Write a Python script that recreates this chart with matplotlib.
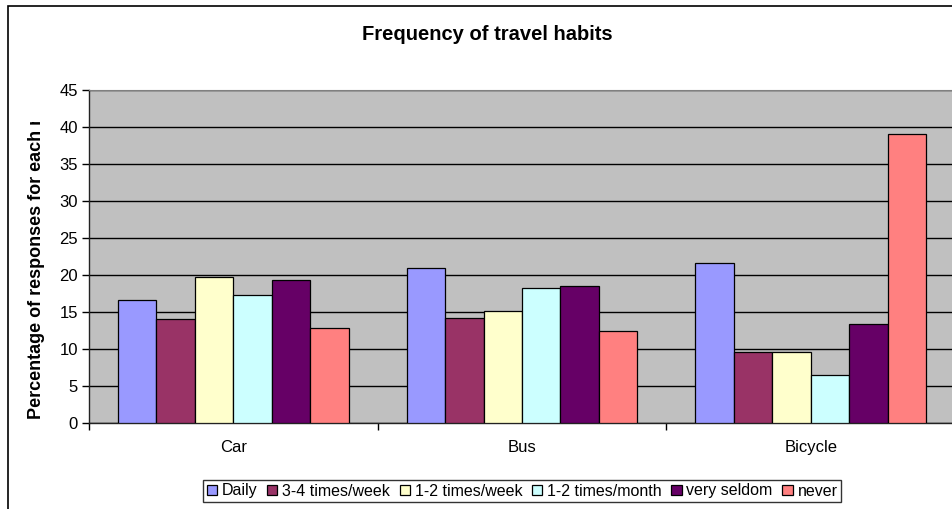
import matplotlib
matplotlib.use("Agg")
import matplotlib.pyplot as plt
from matplotlib.patches import Rectangle
from matplotlib.transforms import Bbox
from matplotlib.font_manager import FontProperties
import numpy as np

plt.rcParams['font.family'] = ['Liberation Sans', 'DejaVu Sans']

modes = ["Car", "Bus", "Bicycle"]
frequencies = ["Daily", "3-4 times/week", "1-2 times/week", "1-2 times/month", "very seldom", "never"]
daily = [16.6, 20.9, 21.6]
times_3_4_week = [14.0, 14.2, 9.6]
times_1_2_week = [19.7, 15.1, 9.6]
times_1_2_month = [17.3, 18.3, 6.5]
very_seldom = [19.3, 18.5, 13.4]
never = [12.8, 12.5, 39.0]
colors = ["#9999FF", "#993366", "#FFFFCC", "#CCFFFF", "#660066", "#FF8080"]

series = [daily, times_3_4_week, times_1_2_week, times_1_2_month, very_seldom, never]

W, H = 953, 509
fig = plt.figure(figsize=(W / 100, H / 100), dpi=100)
ax = fig.add_axes([89 / W, (H - 423) / H, 866 / W, 333 / H])
ax.set_facecolor("#C0C0C0")

# outer chart border
fig.patches.append(Rectangle((8 / W, -0.05), 1.2, 1 - 6 / H + 0.05, transform=fig.transFigure,
                             fill=False, edgecolor="black", linewidth=1.2, zorder=0))

x = np.arange(len(modes)) + 0.5
width = 1 / 7.5
for i, (vals, c, lab) in enumerate(zip(series, colors, frequencies)):
    ax.bar(x + (i - 2.5) * width, vals, width, color=c, edgecolor="black",
           linewidth=0.9, label=lab, zorder=3)

ax.set_xlim(0, 3)
ax.set_ylim(0, 45)
ax.set_yticks(np.arange(0, 46, 5))
ax.yaxis.grid(True, color="black", linewidth=1.0, zorder=1)
ax.set_axisbelow(True)

ax.set_xticks(x)
ax.set_xticklabels(modes, fontsize=12)
ax.set_xticks(np.arange(0, 4), minor=True)
ax.tick_params(axis="x", which="major", length=0, pad=12)
ax.tick_params(axis="x", which="minor", length=5, direction="out", width=1)
ax.tick_params(axis="y", length=5, direction="out", width=1, labelsize=12, pad=3)

for s in ["left", "bottom"]:
    ax.spines[s].set_color("#222222")
    ax.spines[s].set_linewidth(1.0)
ax.spines["top"].set_color("#808080")
ax.spines["right"].set_visible(False)

fig.text(487 / W, 1 - 35 / H, "Frequency of travel habits", ha="center", va="center",
         fontsize=14.5, fontweight="bold")

# axis title is too long for its box, so it gets cut just after "each"
ylab_size = 13
ylab_bottom = H - 419
fp = FontProperties(family=['Liberation Sans', 'DejaVu Sans'], weight="bold", size=ylab_size)
prefix_w, _, _ = fig.canvas.get_renderer().get_text_width_height_descent(
    "Percentage of responses for each ", fp, ismath=False)
clip_top = ylab_bottom + prefix_w + 3
ylab = fig.text(37 / W, ylab_bottom / H, "Percentage of responses for each mode", rotation=90,
                ha="center", va="bottom", fontproperties=fp)
ylab.set_clip_box(Bbox([[0, ylab_bottom - 5], [200, clip_top]]))
ylab.set_clip_on(True)

leg = fig.legend(loc="center", bbox_to_anchor=(522 / W, 1 - 491 / H), ncol=6, fontsize=11.5,
                 frameon=True, fancybox=False, edgecolor="black", handlelength=0.65,
                 handleheight=0.65, handletextpad=0.3, columnspacing=0.6, borderpad=0.25)
leg.get_frame().set_linewidth(1.0)

fig.savefig("out.png", dpi=100)
